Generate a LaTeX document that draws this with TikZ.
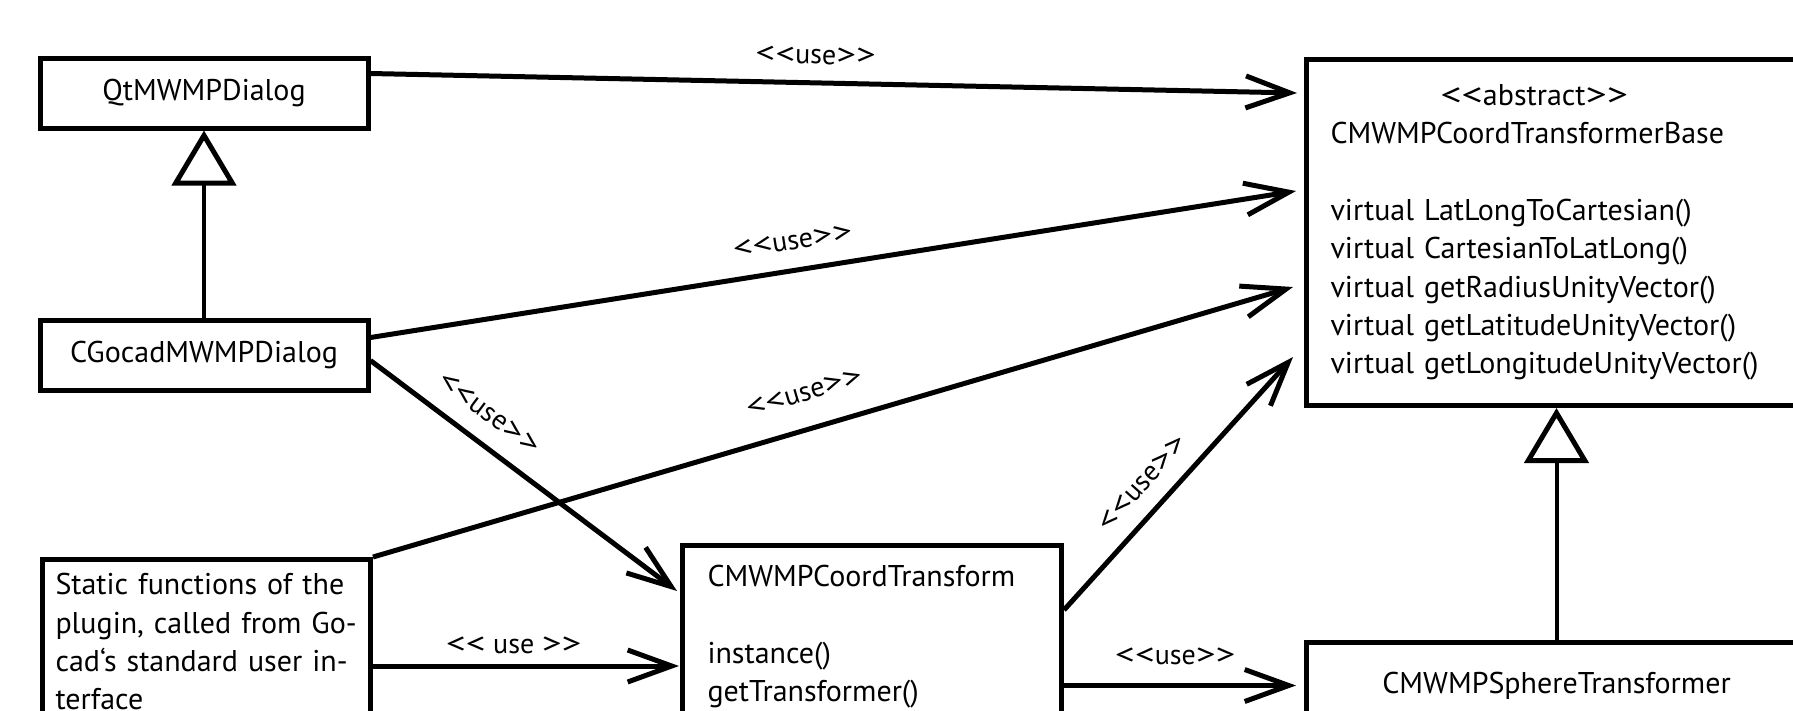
\documentclass[tikz,border=0pt]{standalone}
\usepackage{fontspec}
\usepackage{graphicx}
\setmainfont{PT Sans}
\usetikzlibrary{arrows.meta}
% wide chevrons for the stereotype brackets
\newcommand\chevl{\scalebox{1.4}[1.05]{<}}
\newcommand\chevr{\scalebox{1.4}[1.05]{>}}
\newcommand\umlst[1]{\chevl\chevl#1\chevr\chevr}
\begin{document}
\begin{tikzpicture}[x=1pt,y=1pt,
  font=\fontsize{30}{38.3}\selectfont,
  classbox/.style={draw, line width=5pt, inner sep=0pt},
  usearrow/.style={line width=5pt, line join=miter,
    -{Straight Barb[length=44pt,width=32pt,line width=5pt]}},
  inherit/.style={line width=4pt,
    -{Triangle[open,length=55pt,width=64pt,line width=5pt]}},
  lbl/.style={inner sep=0pt, sloped, font=\fontsize{28}{34}\selectfont}]
\useasboundingbox (0,0) rectangle (1793,-710);
\clip (0,0) rectangle (1793,-710);

% classes
\node[classbox, minimum width=328pt, minimum height=70pt] (qt) at (204,-93) {QtMWMPDialog};
\node[classbox, minimum width=328pt, minimum height=70pt] (cg) at (204,-355) {CGocadMWMPDialog};
\node[classbox, anchor=north west, inner xsep=13pt, inner ysep=14pt,
      text width=302pt, align=left] (st) at (40,-557)
  {\mbox{Static functions of the}\\
   \mbox{plugin, called from Go-}\\
   \mbox{cad‘s standard user in-}\\
   \mbox{terface}};
\node[classbox, anchor=north west, inner xsep=25pt, inner ysep=20pt,
      text width=329pt, align=left] (ct) at (680,-543)
  {CMWMPCoordTransform\\[38.3pt]
   instance()\\
   getTransformer()};
\node[classbox, anchor=north west, minimum height=346pt, inner xsep=24pt,
      inner ysep=0pt, text width=452pt, align=left] (base) at (1304,-57)
  {\hspace*{110pt}\umlst{abstract}\\
   CMWMPCoordTransformerBase\\[38.3pt]
   virtual LatLongToCartesian()\\
   virtual CartesianToLatLong()\\
   virtual getRadiusUnityVector()\\
   virtual getLatitudeUnityVector()\\
   virtual getLongitudeUnityVector()};
\node[classbox, anchor=north west, minimum width=500pt, minimum height=86pt] (sp)
  at (1304,-640) {CMWMPSphereTransformer};

% generalisation
\draw[inherit] (cg.north) -- (qt.south);
\draw[inherit] (sp.north) -- (base.south);

% dependencies
\draw[usearrow] ([yshift=-18pt]qt.north east) --
  node[lbl, pos=0.48, above=16pt] {\umlst{use}}
  ([xshift=-7pt,yshift=-36pt]base.north west);
\draw[usearrow] ([yshift=-20pt]cg.north east) --
  node[lbl, pos=0.461, above=18pt] {\umlst{use}}
  ([xshift=-8pt,yshift=-134pt]base.north west);
\draw[usearrow] (st.north east) --
  node[lbl, pos=0.48, above=25pt] {\umlst{use}}
  ([xshift=-11pt,yshift=-230pt]base.north west);
\draw[usearrow] ([yshift=-43pt]cg.north east) --
  node[lbl, pos=0.33, above=18pt] {\umlst{use}}
  ([xshift=-3pt,yshift=-48pt]ct.north west);
\draw[usearrow] ([yshift=-109pt]st.north east) --
  node[lbl, pos=0.46, above=10pt] {\chevl\chevl{} use \chevr\chevr}
  ([xshift=-1pt,yshift=-123pt]ct.north west);
\draw[usearrow] ([yshift=-67pt]ct.north east) --
  node[lbl, pos=0.43, above=16pt] {\umlst{use}}
  ([xshift=-11pt,yshift=-300pt]base.north west);
\draw[usearrow] (ct.north east |- sp.west) --
  node[lbl, pos=0.48, above=18pt] {\umlst{use}}
  ([xshift=-8pt]sp.west);
\end{tikzpicture}
\end{document}
